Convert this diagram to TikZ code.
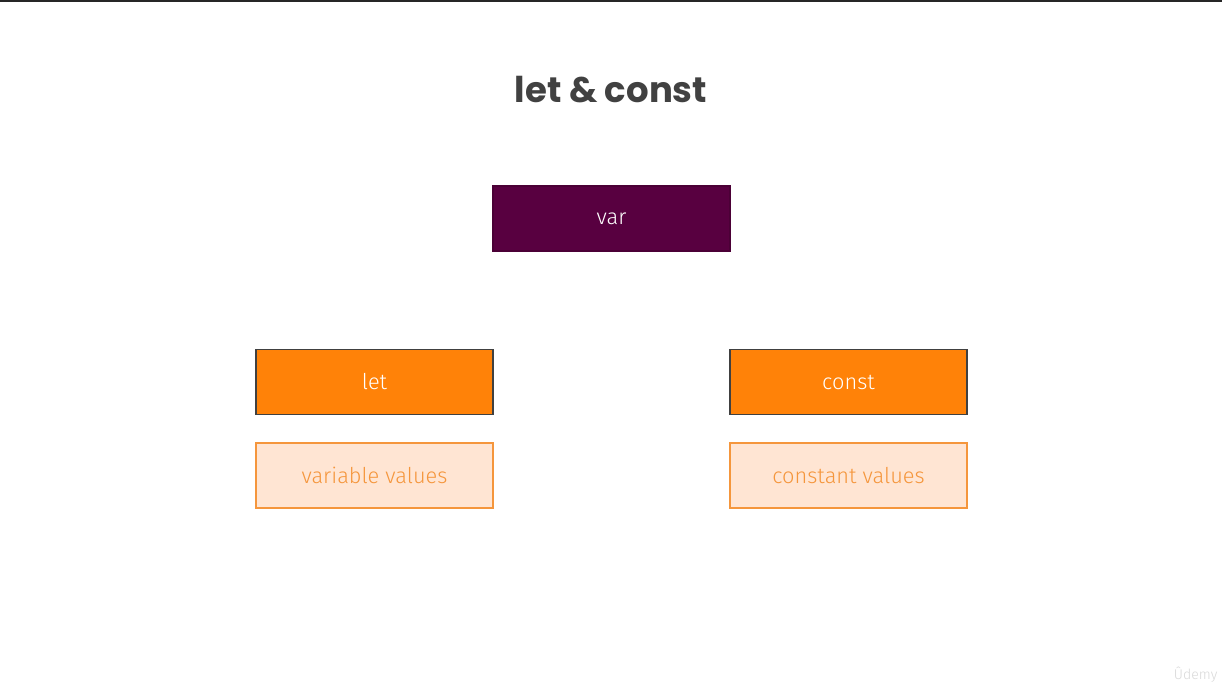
\documentclass[tikz,border=0pt]{standalone}
\usepackage{fontspec}
\setmainfont{Fira Sans Light}
\newfontfamily\titlefont{Poppins Bold}
\usetikzlibrary{positioning}
\usepackage{xcolor}
\definecolor{varpurple}{HTML}{580040}
\definecolor{keyorange}{HTML}{FF8208}
\definecolor{valfill}{HTML}{FFE5D3}
\definecolor{valline}{HTML}{F5963C}
\definecolor{titlegray}{HTML}{414141}
\tikzset{
  keybox/.style={inner sep=0pt, minimum width=2.37cm, minimum height=0.65cm, text=white, font=\fontsize{6.2}{8}\selectfont},
  valbox/.style={inner sep=0pt, minimum width=2.37cm, minimum height=0.65cm, fill=valfill, draw=valline, line width=0.5pt, text=valline, font=\fontsize{6.2}{8}\selectfont}
}
\begin{document}
\begin{tikzpicture}
			\useasboundingbox (0,0) rectangle (12.22,6.87);
			\fill[white] (0,0) rectangle (12.22,6.87);
			\draw[line width=0.6pt, black!85] (0,6.86) -- (12.22,6.86);
			\draw (6.11,5.97) node[text=titlegray, font=\titlefont\fontsize{10.1}{12}\selectfont] (title) {let \& const}
			(6.115,4.685) node[keybox, fill=varpurple, draw=varpurple!85!black] (var) {var}
			(3.745,3.05) node[keybox, fill=keyorange, draw=black!75, line width=0.5pt] (let) {let}
			(8.485,3.05) node[keybox, fill=keyorange, draw=black!75, line width=0.5pt] (const) {const}
			(3.745,2.115) node[valbox] (varval) {variable values}
			(8.485,2.115) node[valbox] (constval) {constant values};
			
			\node[anchor=south east, inner sep=0pt, text=black!15, font=\fontsize{4}{4}\selectfont] (udemy) at (12.18,0.04) {Ûdemy};
		\end{tikzpicture}
\end{document}
